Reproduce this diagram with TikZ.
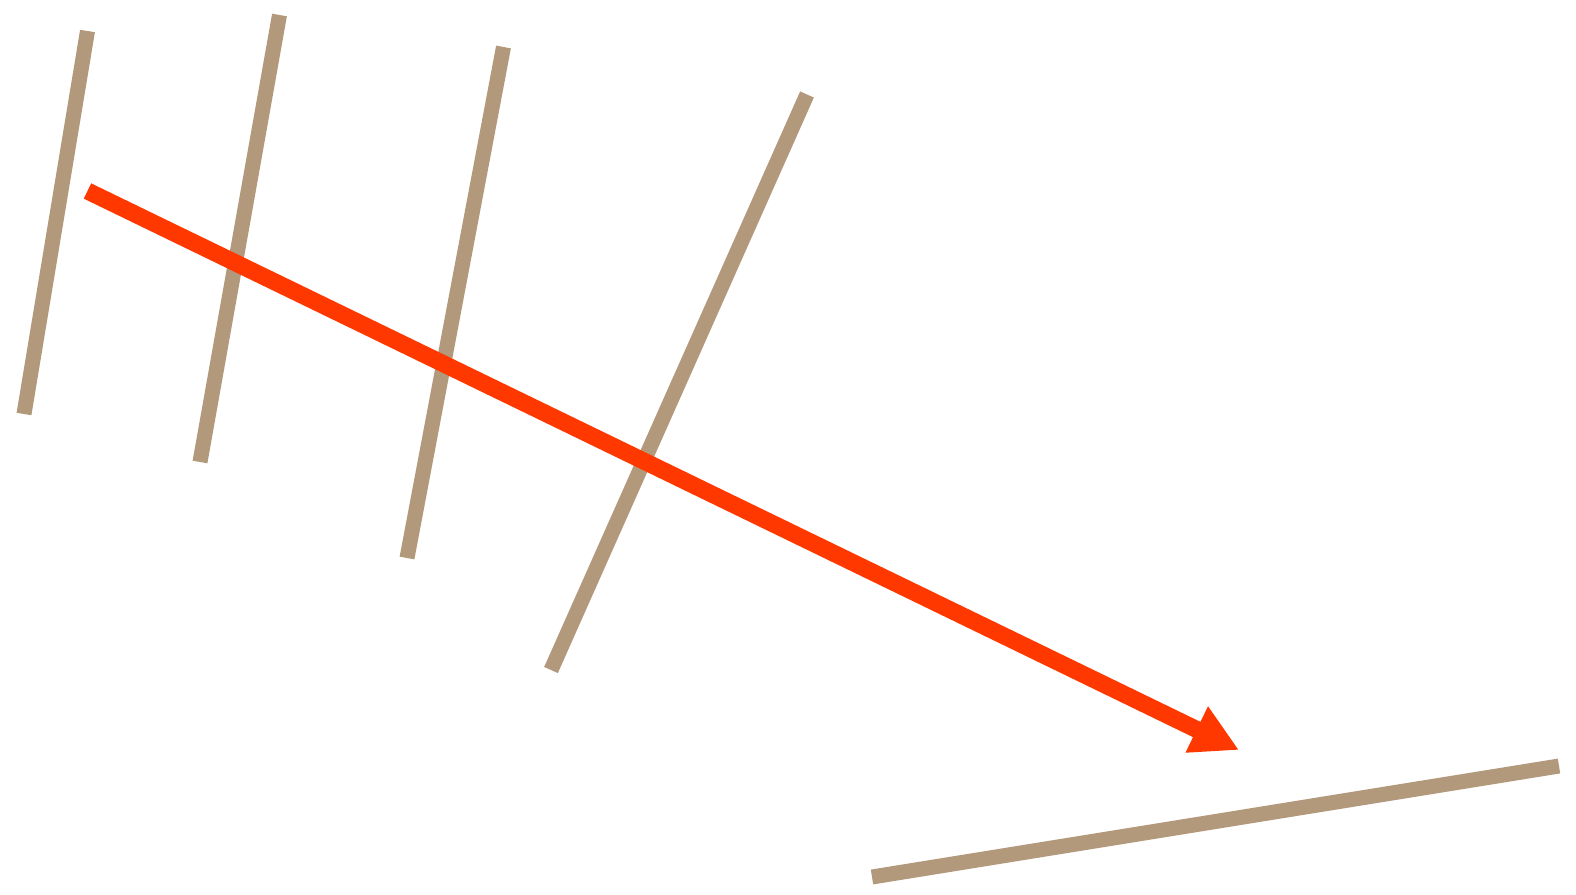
\documentclass[tikz,border=0pt]{standalone}
\usetikzlibrary{arrows.meta}
\definecolor{tan}{RGB}{179,153,123}
\definecolor{arrowred}{RGB}{255,56,0}
\begin{document}
\begin{tikzpicture}[x=1pt,y=-1pt,
  stick/.style={draw=tan,line width=15pt},
  pointer/.style={draw=arrowred,line width=17pt,-{Triangle[length=47pt,width=48pt]}}]
\useasboundingbox (0,0) rectangle (1576,894);
\coordinate (a1) at (24,414);  \coordinate (b1) at (87.5,31);
\coordinate (a2) at (200,462); \coordinate (b2) at (279.5,15);
\coordinate (a3) at (407,558); \coordinate (b3) at (503.5,47);
\coordinate (a4) at (551,670); \coordinate (b4) at (807,94.5);
\coordinate (a5) at (872,877); \coordinate (b5) at (1559,766);
\coordinate (s) at (87.5,191); \coordinate (t) at (1239,750);
\draw[stick] (a1) -- (b1);
\draw[stick] (a2) -- (b2);
\draw[stick] (a3) -- (b3);
\draw[stick] (a4) -- (b4);
\draw[stick] (a5) -- (b5);
\draw[pointer] (s) -- (t);
\end{tikzpicture}
\end{document}
